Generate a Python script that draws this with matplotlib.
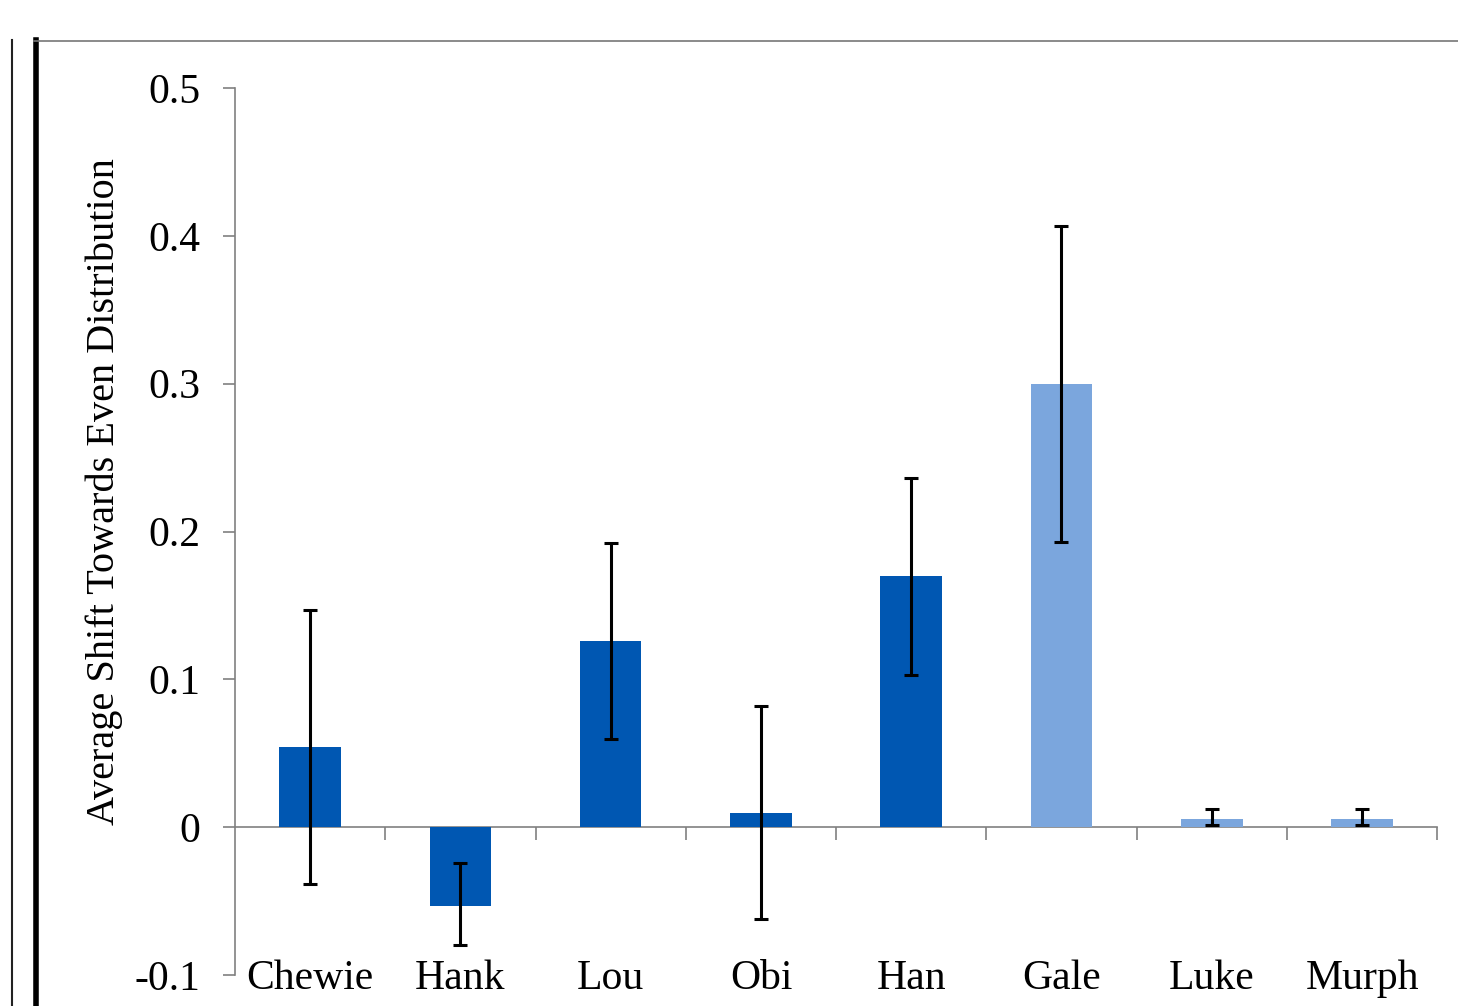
import numpy as np
import matplotlib.pyplot as plt
from matplotlib.lines import Line2D

names = ['Chewie', 'Hank', 'Lou', 'Obi', 'Han', 'Gale', 'Luke', 'Murph']
means = [0.054, -0.053, 0.126, 0.0095, 0.170, 0.300, 0.0055, 0.0055]
err_hi = [0.147, -0.024, 0.192, 0.082, 0.236, 0.407, 0.012, 0.012]
err_lo = [-0.0385, -0.080, 0.0595, -0.062, 0.103, 0.193, 0.0015, 0.0015]
dark = [True, True, True, True, True, False, False, False]
yticks = [-0.1, 0, 0.1, 0.2, 0.3, 0.4, 0.5]

plt.rcParams['font.family'] = ['Liberation Serif', 'DejaVu Serif']

fig = plt.figure(figsize=(14.58, 10.06), dpi=100)
ax = fig.add_axes([0.1612, 0.0308, 0.8245, 0.8817])

x = np.arange(len(names))
cols = ['#0057B2' if d else '#7BA6DD' for d in dark]
means = np.array(means)
yerr = [means - np.array(err_lo), np.array(err_hi) - means]
ax.bar(x, means, width=0.41, color=cols, zorder=2)
ax.errorbar(x, means, yerr=yerr, fmt='none', ecolor='black', elinewidth=2.2,
            capsize=5, capthick=2.2, zorder=3)

ymin, ymax = -0.1, 0.5
ax.set_ylim(ymin, ymax)
ax.set_xlim(-0.5, len(names) - 0.5)
ax.set_yticks(yticks)
ax.set_yticklabels(['-0.1', '0', '0.1', '0.2', '0.3', '0.4', '0.5'])
ax.tick_params(axis='y', labelsize=30, length=9, width=1.2, color='#808080',
               pad=16)

for s in ['top', 'right', 'bottom']:
    ax.spines[s].set_visible(False)
ax.spines['left'].set_color('#808080')
ax.spines['left'].set_linewidth(1.2)

# category labels along the bottom, no tick marks
ax.set_xticks(x)
ax.set_xticklabels(names)
ax.tick_params(axis='x', length=0, labelsize=30, pad=-11)

# zero line with bin separators
zero = (0 - ymin) / (ymax - ymin)
sec = ax.secondary_xaxis(zero)
sec.set_xticks(np.arange(len(names)) + 0.5)
sec.set_xticklabels([])
sec.tick_params(length=9, width=1.2, color='#808080', direction='out')
sec.spines['bottom'].set_color('#808080')
sec.spines['bottom'].set_linewidth(1.2)

ax.set_ylabel('Average Shift Towards Even Distribution', fontsize=29,
              labelpad=8)
ax.yaxis.label.set_y(0.545)

# surrounding frame from the slide
fig.add_artist(Line2D([0.0085, 0.0085], [0, 0.96], color='#222222', lw=1.5))
fig.add_artist(Line2D([0.0245, 0.0245], [0, 0.96], color='black', lw=4))
fig.add_artist(Line2D([0.0235, 1.0], [0.959, 0.959], color='#777777', lw=1.2))

fig.savefig('out.png', dpi=100)
